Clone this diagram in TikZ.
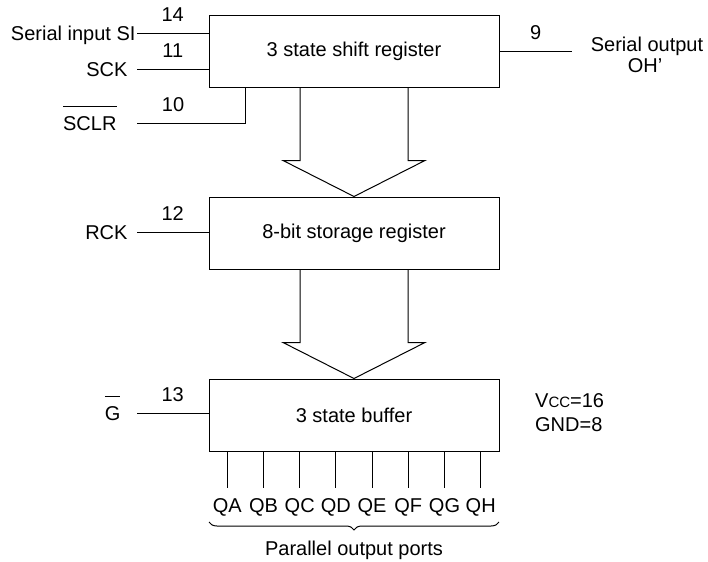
\documentclass[tikz,border=0pt]{standalone}
\usepackage{fontspec}
\setmainfont{Liberation Sans}
\usepackage{tikz}
\usetikzlibrary{positioning}
\usetikzlibrary{calc}
\usetikzlibrary{decorations.pathreplacing}
\newcommand{\ovl}[1]{\ensuremath{\overline{\rule{0pt}{10.5pt}\mbox{#1}}}}
\newcommand{\busarrow}[2]{\draw ([xshift=-27pt]#1.south) -- ++(0,73) -- ++(-17,0) -- (#2.north) -- ++(71,-36) -- ++(-17,0) -- ([xshift=27pt]#1.south)}

\begin{document}
\begin{tikzpicture}[
    x=0.5pt, y=-0.5pt,
    line width=0.5pt,
    every node/.style={font=\fontsize{10}{12}\selectfont},
    blk/.style={rectangle,minimum width=145pt,minimum height=36pt,draw=black},
    pinnum/.style={midway,above=2pt},
    sig/.style={anchor=base east,inner sep=0pt},
    node distance=54.5pt
  ]
  \useasboundingbox (0,0) rectangle (708,562);
  % the three blocks
  \node[blk] (shift) at (354,51) {3 state shift register};
  \node[blk,below=of shift] (store) {8-bit storage register};
  \node[blk,below=of store] (buf) {3 state buffer};
  \busarrow{shift}{store};
  \busarrow{store}{buf};
  % pins
  \coordinate (siin) at (137,33);
  \coordinate (sckin) at (137,69);
  \coordinate (sclrin) at (137,123);
  \coordinate (rckin) at (137,232);
  \coordinate (gin) at (137,413);
  \coordinate (soout) at (572,51);
  \draw (siin) -- (siin -| shift.west) node[pinnum] {14};
  \draw (sckin) -- (sckin -| shift.west) node[pinnum] {11};
  \draw (sclrin) -| ([xshift=-54.5pt]shift.south) node[pinnum,pos=0.167] {10};
  \draw (rckin) -- (rckin -| store.west) node[pinnum] {12};
  \draw (gin) -- (gin -| buf.west) node[pinnum] {13};
  \draw (shift.east) -- (soout) node[pinnum] {9};
  \node[sig] (si) at (136,40) {Serial input SI};
  \node[sig] (sck) at (128,76) {SCK};
  \node[sig] (sclr) at (117,130) {\ovl{SCLR}};
  \node[sig] (rck) at (128,239) {RCK};
  \node[sig] (g) at (121,420) {\ovl{G}};
  \node[anchor=base,inner sep=0pt] (sotop) at (647,52) {Serial output};
  \node[anchor=base,inner sep=0pt] (sobot) at (645,72) {OH’};
  \node[anchor=west,align=left] (pwr) at (528,413) {V{\fontsize{7.5}{9}\selectfont CC}=16\\GND=8};
  % parallel outputs
  \foreach \q [count=\i] in {A,B,C,D,E,F,G,H}
    \draw ([xshift={(\i-4.5)*18.1pt}]buf.south) -- ++(0,36) node[below=2pt] (q\q) {Q\q};
  \coordinate (brl) at (209,522);
  \coordinate (brr) at (499,522);
  \draw[decorate,decoration={brace,mirror,amplitude=4pt}] (brl) -- (brr);
  \node[anchor=base] (ports) at (354,555) {Parallel output ports};
\end{tikzpicture}
\end{document}
